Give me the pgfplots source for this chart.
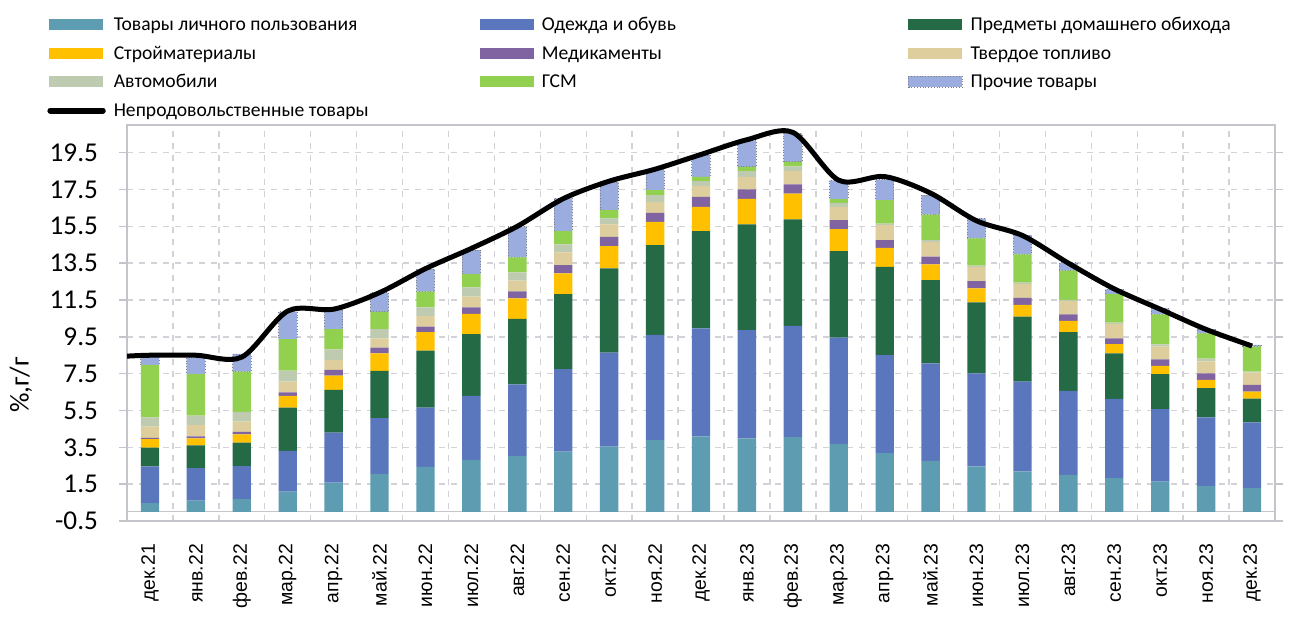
\documentclass[border=0pt]{standalone}
\usepackage{fontspec}
\setmainfont{Carlito}
\newfontfamily\arialfont{Liberation Sans}
\usepackage{pgfplots}
\pgfplotsset{compat=1.18}
\usepackage{pgfplotstable}

\definecolor{cTeal}{RGB}{94,157,177}
\definecolor{cBlue}{RGB}{90,118,189}
\definecolor{cDG}{RGB}{36,106,69}
\definecolor{cYel}{RGB}{255,192,0}
\definecolor{cPur}{RGB}{128,100,162}
\definecolor{cBei}{RGB}{222,206,157}
\definecolor{cGG}{RGB}{190,203,176}
\definecolor{cLG}{RGB}{146,208,80}
\definecolor{cLav}{RGB}{155,173,222}
\definecolor{gridc}{RGB}{210,210,216}
\definecolor{framec}{RGB}{196,196,202}

\pgfplotstableread{
x teal blue dg yel pur bei gg lg lav
0 0.47 1.99 1.03 0.45 0.07 0.62 0.50 2.84 0.54
1 0.60 1.77 1.23 0.39 0.10 0.61 0.52 2.26 0.89
2 0.69 1.79 1.28 0.45 0.13 0.56 0.52 2.19 0.96
3 1.10 2.21 2.35 0.63 0.20 0.58 0.59 1.72 1.48
4 1.59 2.71 2.32 0.77 0.31 0.54 0.58 1.10 1.07
5 2.06 3.02 2.57 0.95 0.31 0.51 0.50 0.94 1.03
6 2.44 3.22 3.09 1.01 0.29 0.58 0.47 0.85 1.23
7 2.82 3.47 3.36 1.09 0.36 0.58 0.50 0.73 1.30
8 3.04 3.88 3.56 1.11 0.38 0.58 0.45 0.81 1.66
9 3.27 4.47 4.08 1.12 0.45 0.69 0.44 0.72 1.77
10 3.54 5.10 4.57 1.22 0.50 0.67 0.33 0.45 1.53
11 3.90 5.70 4.88 1.26 0.49 0.60 0.36 0.27 1.12
12 4.09 5.87 5.28 1.32 0.54 0.60 0.25 0.23 1.18
13 3.99 5.88 5.73 1.39 0.51 0.68 0.31 0.24 1.41
14 4.05 6.04 5.78 1.41 0.49 0.72 0.27 0.24 1.54
15 3.69 5.76 4.70 1.20 0.49 0.72 0.21 0.20 1.03
16 3.18 5.33 4.79 1.03 0.42 0.81 0.09 1.27 1.12
17 2.77 5.29 4.52 0.85 0.42 0.81 0.09 1.39 1.05
18 2.46 5.06 3.85 0.76 0.40 0.77 0.06 1.48 1.09
19 2.19 4.88 3.52 0.64 0.39 0.74 0.08 1.53 1.05
20 2.01 4.55 3.20 0.60 0.36 0.72 0.06 1.59 0.43
21 1.83 4.30 2.47 0.51 0.31 0.78 0.07 1.55 0.26
22 1.64 3.93 1.90 0.45 0.36 0.69 0.12 1.63 0.32
23 1.41 3.71 1.59 0.45 0.36 0.65 0.15 1.37 0.23
24 1.28 3.58 1.29 0.38 0.36 0.67 0.05 1.36 0.09
}\bars

\pgfplotstableread{
x v
-0.5 8.45
0 8.5
1 8.5
2 8.4
3 10.9
4 11.0
5 11.9
6 13.2
7 14.3
8 15.5
9 17.0
10 17.95
11 18.6
12 19.4
13 20.2
14 20.6
15 18.0
16 18.2
17 17.3
18 15.8
19 15.0
20 13.5
21 12.1
22 11.0
23 9.9
24 9.0
}\total

\pgfplotsset{
  mybar/.style={fill=#1, draw=none,
    legend image code/.code={\fill[fill=#1] (0pt,-2.75pt) rectangle (27pt,2.75pt);}},
  common/.style={scale only axis, width=574pt, height=198pt,
    xmin=-0.5, xmax=24.5, ymin=-0.5, ymax=21},
}
\newcommand{\lt}[1]{\hspace*{4pt}\makebox[183pt][l]{#1}}

\begin{document}
\begin{tikzpicture}
\useasboundingbox (-63.5pt,-56pt) rectangle (583pt,260.5pt);
\begin{axis}[common, name=main,
  ybar stacked, bar width=0.4,
  xtick={0,...,24},
  xticklabels={дек.21,янв.22,фев.22,мар.22,апр.22,май.22,июн.22,июл.22,авг.22,сен.22,окт.22,ноя.22,дек.22,янв.23,фев.23,мар.23,апр.23,май.23,июн.23,июл.23,авг.23,сен.23,окт.23,ноя.23,дек.23},
  xticklabel style={rotate=90, anchor=east, font=\arialfont\fontsize{9.7}{11}\selectfont},
  xticklabel shift=4pt,
  minor xtick={0.5,1.5,...,23.5},
  ytick={-0.5,1.5,...,19.5},
  yticklabels={-0.5,1.5,3.5,5.5,7.5,9.5,11.5,13.5,15.5,17.5,19.5},
  yticklabel style={font=\fontsize{13.6}{16}\selectfont, xshift=-7pt},
  ymajorgrids, xminorgrids,
  major grid style={gridc, dashed, line width=0.7pt},
  minor grid style={gridc, dashed, line width=0.7pt},
  extra y ticks={0}, extra y tick labels={},
  extra y tick style={major grid style={framec, solid, line width=0.7pt}, major tick length=0pt},
  tick align=outside, major tick length=4pt,
  major x tick style={draw=none}, minor x tick style={draw=none},
  y tick style={framec, line width=0.7pt},
  axis line style={framec, line width=1pt},
  ylabel={\%,г/г},
  every axis y label/.style={at={(axis description cs:-0.0923,0.343)}, anchor=center, rotate=90,
     font=\fontsize{13.6}{16}\selectfont},
  legend columns=3,
  legend style={draw=none, fill=none, at={(axis description cs:-0.0697,1.2795)}, anchor=north west,
    font=\fontsize{9.8}{11}\selectfont, inner sep=0pt, column sep=0pt, row sep=4.3pt,
    nodes={inner sep=0pt, text height=8pt, text depth=2pt},
    cells={anchor=west}},
]
\addplot[mybar=cTeal] table[x=x,y=teal]{\bars}; \addlegendentry{\lt{Товары личного пользования}}
\addplot[mybar=cBlue] table[x=x,y=blue]{\bars}; \addlegendentry{\lt{Одежда и обувь}}
\addplot[mybar=cDG] table[x=x,y=dg]{\bars}; \addlegendentry{\lt{Предметы домашнего обихода}}
\addplot[mybar=cYel] table[x=x,y=yel]{\bars}; \addlegendentry{\lt{Стройматериалы}}
\addplot[mybar=cPur] table[x=x,y=pur]{\bars}; \addlegendentry{\lt{Медикаменты}}
\addplot[mybar=cBei] table[x=x,y=bei]{\bars}; \addlegendentry{\lt{Твердое топливо}}
\addplot[mybar=cGG] table[x=x,y=gg]{\bars}; \addlegendentry{\lt{Автомобили}}
\addplot[mybar=cLG] table[x=x,y=lg]{\bars}; \addlegendentry{\lt{ГСМ}}
\addplot[fill=cLav, draw=gray, densely dotted, line width=0.4pt,
  legend image code/.code={\fill[fill=cLav, draw=gray, densely dotted, line width=0.4pt] (0pt,-2.75pt) rectangle (27pt,2.75pt);}]
  table[x=x,y=lav]{\bars}; \addlegendentry{\lt{Прочие товары}}
\addlegendimage{legend image code/.code={\draw[black, line width=3pt, line cap=round] (0.8pt,0pt) -- (27pt,0pt);}}
\addlegendentry{\lt{Непродовольственные товары}}
\end{axis}
\begin{axis}[common, hide axis]
\addplot[black, line width=2.5pt, smooth, no markers] table[x=x,y=v]{\total};
\end{axis}
\end{tikzpicture}
\end{document}
